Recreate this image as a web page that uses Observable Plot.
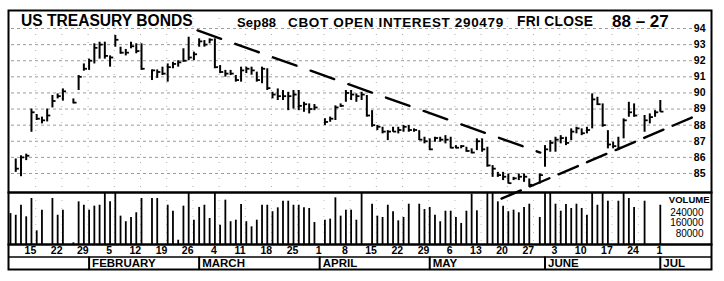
<!DOCTYPE html>
<html>
<head>
<meta charset="utf-8">
<script src="https://cdn.jsdelivr.net/npm/d3@7"></script>
<script src="https://cdn.jsdelivr.net/npm/@observablehq/plot@0.6"></script>
<style>
  html, body { margin: 0; padding: 0; background: #fff; }
  #wrap { position: relative; width: 724px; height: 281px; overflow: hidden; font-family: "Liberation Sans", Arial, Helvetica, sans-serif; }
  #wrap svg { position: absolute; left: 0; top: 0; background: transparent; }
  .t { position: absolute; font-weight: bold; line-height: 1; white-space: nowrap; color: #000; }
</style>
</head>
<body>
<div id="wrap">
  <div class="t" style="left:21px; top:13px; font-size:15.6px;">US TREASURY BONDS</div>
  <div class="t" style="left:237px; top:16px; font-size:13px; letter-spacing:0.2px;">Sep88</div>
  <div class="t" style="left:288px; top:15.5px; font-size:13.5px; letter-spacing:0.65px;">CBOT OPEN INTEREST 290479</div>
  <div class="t" style="left:517px; top:15px; font-size:13.8px; letter-spacing:0.3px;">FRI CLOSE</div>
  <div class="t" style="left:612px; top:12.5px; font-size:17px;">88 – 27</div>
</div>
<script>
// ---- Data (one slot per weekday starting Mon 1988-01-11; null = no bar) ----
const startDate = "1988-01-11";
const high = [
 null, 85.9, 86.1, 86.2, 89.0, 88.66, 88.5, 89.0, 89.84, 89.94,
 90.25, null, 89.63, 91.08, 91.8, 92.1, 93.05, 93.15, 93.15, 92.3,
 93.57, 92.84, 92.7, 93.15, 93.05, 93.05, null, 91.43, 91.43, 91.6,
 91.8, 91.9, 92.0, 92.74, 93.46, 92.53, 93.36, 93.25, 93.36, 93.36,
 91.7, 91.4, 91.4, 91.08, 91.6, 91.6, 91.6, 91.29, 91.6, 91.5,
 90.04, 90.25, 90.15, 90.04, 90.15, 90.15, 89.42, 89.32, 89.28, null,
 88.4, 88.5, 89.2, 89.32, 90.15, 90.15, 89.94, 90.04, 89.84, 88.9,
 87.98, 87.87, 87.66, 87.87, 87.87, 87.98, 87.98, 87.77, 87.66, 87.25,
 87.15, 87.25, 87.25, 87.35, 87.25, 86.73, 86.73, 86.63, 86.53, 87.15,
 87.15, 86.63, 85.49, 85.07, 85.07, 84.97, 84.76, 84.97, 84.97, 84.66,
 null, 84.97, 86.73, 87.04, 87.25, 87.35, 87.25, 87.77, 87.87, 87.77,
 87.87, 89.94, 89.73, 89.32, 87.66, 86.94, 87.25, 88.39, 89.42, 89.32,
 null, 88.6, 88.7, 88.9, 89.53
];
const low = [
 null, 85.07, 84.8, 85.8, 87.56, 88.29, 88.08, 88.2, 89.07, 89.63,
 89.49, null, 89.32, 90.15, 91.35, 91.4, 91.8, 92.1, 92.1, 91.6,
 92.84, 92.4, 92.3, 92.74, 92.43, 91.4, null, 90.77, 90.9, 91.08,
 90.67, 91.5, 91.6, 91.9, 92.0, 92.0, 92.84, 92.84, 93.05, 91.5,
 91.2, 90.98, 91.08, 90.67, 90.67, 91.2, 91.1, 90.67, 90.57, 90.15,
 89.63, 89.53, 89.53, 88.9, 89.0, 88.9, 88.8, 88.7, 88.9, null,
 87.98, 88.18, 88.29, 89.1, 89.42, 89.53, 89.42, 89.53, 88.5, 87.87,
 87.66, 87.46, 87.04, 87.56, 87.46, 87.56, 87.56, 87.56, 87.04, 86.84,
 86.42, 86.94, 86.94, 86.84, 86.53, 86.53, 86.53, 86.32, 86.22, 86.42,
 86.32, 85.39, 84.76, 84.76, 84.56, 84.35, 84.56, 84.56, 84.45, 84.14,
 null, 84.35, 85.39, 86.32, 86.32, 86.84, 86.73, 87.04, 87.46, 87.35,
 87.46, 87.77, 89.22, 87.87, 86.53, 86.53, 86.42, 87.15, 88.49, 88.49,
 null, 87.56, 88.08, 88.49, 88.8
];
const close = [
 null, 85.3, 86.0, 86.1, 88.8, 88.4, 88.3, 88.6, 89.5, 89.8,
 90.1, null, 89.4, 91.0, 91.5, 92.0, 92.8, 93.0, 92.3, 92.2,
 93.3, 92.5, 92.5, 92.9, 92.6, 91.5, null, 91.4, 91.3, 91.2,
 91.6, 91.8, 91.9, 92.0, 92.2, 92.4, 93.2, 93.0, 93.3, 91.6,
 91.3, 91.2, 91.2, 90.8, 91.4, 91.5, 91.4, 90.8, 91.5, 90.3,
 89.9, 89.8, 89.8, 89.8, 89.9, 89.2, 89.3, 89.0, 89.1, null,
 88.2, 88.4, 89.1, 89.2, 90.0, 89.9, 89.8, 89.9, 88.6, 88.0,
 87.9, 87.6, 87.6, 87.6, 87.7, 87.9, 87.7, 87.7, 87.1, 87.0,
 86.5, 87.2, 87.1, 87.1, 86.6, 86.6, 86.7, 86.4, 86.3, 87.0,
 86.5, 85.5, 85.3, 84.9, 84.8, 84.4, 84.7, 84.8, 84.8, 84.3,
 null, 84.9, 86.5, 86.9, 87.1, 87.2, 86.9, 87.6, 87.8, 87.5,
 87.7, 89.6, 89.3, 88.0, 86.8, 86.7, 86.6, 88.3, 88.8, 88.6,
 null, 88.3, 88.5, 88.8, 88.84
];
// volume, thousands of contracts
const volumeK = [
 238, 225, 302, 213, 354, 105, 264, null, 354, 225,
 264, null, 13, 328, 302, 264, 295, 302, 430, 328,
 430, 218, 175, 208, 244, 354, null, 354, 354, null,
 302, 256, 33, 295, 430, 187, 285, 302, 200, 430,
 148, 341, 175, 187, 308, 175, 136, 187, 302, 302,
 252, 282, 333, 333, 302, 302, 282, 277, 169, null,
 187, 195, 359, 218, 264, 264, 187, 430, null, 310,
 218, 208, 302, 252, 182, 208, 310, null, 310, 269,
 285, 225, 175, 256, 256, 208, 162, 256, 387, 259,
 null, 430, 430, 328, 295, 252, 264, 244, 285, 310,
 null, 208, 430, 430, 310, 256, 308, 277, 310, 277,
 225, 430, 302, 430, 333, null, 333, 430, 354, 285,
 null, 333, null, null, 302
];
const priceTicks = [94, 93, 92, 91, 90, 89, 88, 87, 86, 85];
const weekLabels = ["15","22","29","5","12","19","26","4","11","18","25","1","8","15","22","29","6","13","20","27","3","10","17","24","1"];
const monthNames = ["FEBRUARY", "MARCH", "APRIL", "MAY", "JUNE", "JUL"];
const monthStarts = ["1988-02-01", "1988-03-01", "1988-04-01", "1988-05-02", "1988-06-01", "1988-07-01"];
const volumeLegend = ["240000", "160000", "80000"];
// trend lines as drawn on the chart (slot, price)
const downTrend = [{s: 35.7, p: 93.88}, {s: 101.1, p: 86.3}];
const upTrend = [{s: 93.7, p: 83.44}, {s: 130, p: 88.47}];

// ---- helpers ----
const t0 = new Date(startDate + "T00:00:00Z");
function slotOf(ds) {
  const d = new Date(ds + "T00:00:00Z");
  const days = Math.round((d - t0) / 86400000);
  return Math.floor(days / 7) * 5 + (days % 7);
}
const bars = high.map((h, s) => ({s, h, l: low[s], c: close[s]})).filter(d => d.h != null);
const vols = volumeK.map((v, s) => ({s, v})).filter(d => d.v != null);
const fridays = weekLabels.map((t, k) => ({s: 4 + 5 * k, t}));
const mondays = d3.range(5, 125, 5);
const months = monthNames.map((name, k) => ({name, s: slotOf(monthStarts[k])}));

const FONT = '"Liberation Sans", Arial, Helvetica, sans-serif';
const xScale = {type: "linear", domain: [0, 124], range: [10, 659.8], axis: null};
const common = {width: 724, height: 281, marginLeft: 8, marginRight: 13,
  style: {fontFamily: FONT, background: "transparent", overflow: "visible"}};

// Price panel
const priceChart = Plot.plot({
  ...common, marginTop: 10, marginBottom: 89,
  x: xScale,
  y: {domain: [85, 94], range: [173, 28], axis: null},
  marks: [
    Plot.ruleY(priceTicks, {y: d => d, stroke: "#333", strokeWidth: 0.9, strokeDasharray: "3,3", strokeOpacity: 0.55, insetLeft: 3, insetRight: 19}),
    Plot.ruleX(mondays, {x: d => d, dx: -1, stroke: "#555", strokeWidth: 0.8, strokeDasharray: "1,7", strokeOpacity: 0.6}),
    Plot.ruleX(bars, {x: "s", y1: "l", y2: "h", stroke: "#000", strokeWidth: 2}),
    Plot.link(bars, {x1: "s", x2: d => d.s + 0.6, y1: "c", y2: "c", stroke: "#000", strokeWidth: 1.8}),
    Plot.line(downTrend, {x: "s", y: "p", stroke: "#000", strokeWidth: 2.4, strokeDasharray: "25,15"}),
    Plot.line(upTrend, {x: "s", y: "p", stroke: "#000", strokeWidth: 2.4, strokeDasharray: "21,10"}),
    Plot.text(priceTicks, {y: d => d, text: d => String(d), frameAnchor: "right", textAnchor: "end", dx: -6, fontWeight: "bold", fontSize: 10.5, fill: "#000"}),
    Plot.frame({stroke: "#000", strokeWidth: 2})
  ]
});

// Volume panel
const volumeChart = Plot.plot({
  ...common, marginTop: 192, marginBottom: 37,
  x: xScale,
  y: {domain: [0, 400], axis: null},
  marks: [
    Plot.ruleX(mondays, {x: d => d, dx: -1, stroke: "#555", strokeWidth: 0.8, strokeDasharray: "1,7", strokeOpacity: 0.5}),
    Plot.ruleX(vols, {x: "s", y1: 0, y2: "v", stroke: "#000", strokeWidth: 1.8, clip: true}),
    Plot.text(["VOLUME"], {text: d => d, frameAnchor: "top-right", textAnchor: "end", dx: -2, dy: 4, fontSize: 9.5, fontWeight: "bold", fill: "#000"}),
    Plot.text([volumeLegend.join("\n")], {text: d => d, frameAnchor: "top-right", textAnchor: "end", lineAnchor: "top", lineHeight: 1.05, dx: -8, dy: 16, fontSize: 10, fill: "#000"}),
    Plot.frame({stroke: "#000", strokeWidth: 2})
  ]
});

// Date / month rows
const axisChart = Plot.plot({
  ...common, marginTop: 244, marginBottom: 12,
  x: xScale,
  y: {domain: [0, 2], axis: null},
  marks: [
    Plot.text(fridays, {x: "s", y: () => 1.5, text: "t", dx: -1, fontWeight: "bold", fontSize: 10.5, fill: "#000"}),
    Plot.ruleY([1], {stroke: "#000", strokeWidth: 1.5}),
    Plot.ruleX(months, {x: "s", y1: () => 0, y2: () => 1, stroke: "#000", strokeWidth: 2}),
    Plot.text(months, {x: "s", y: () => 0.5, text: "name", textAnchor: "start", dx: 3, fontWeight: "bold", fontSize: 11.5, fill: "#000"}),
    Plot.frame({stroke: "#000", strokeWidth: 2})
  ]
});

const wrap = document.getElementById("wrap");
wrap.prepend(axisChart);
wrap.prepend(volumeChart);
wrap.prepend(priceChart);
</script>
</body>
</html>
